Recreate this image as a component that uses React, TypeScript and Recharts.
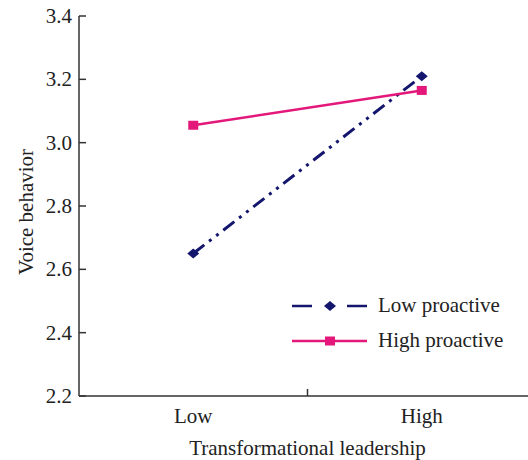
import React from "react";
import { LineChart, Line, XAxis, YAxis, Label } from "recharts";

const categories = ["Low", "High"];
const lowProactive = [2.65, 3.21];
const highProactive = [3.055, 3.165];
const yTicks = [2.2, 2.4, 2.6, 2.8, 3.0, 3.2, 3.4];

const NAVY = "#14166e";
const PINK = "#e3187a";
const FONT = "'Liberation Serif', 'Times New Roman', serif";
const AXIS = "#333";

const data = categories.map((name, i) => ({
  pos: i + 0.5,
  name,
  low: lowProactive[i],
  high: highProactive[i],
}));

const Diamond = (props: any) => {
  const { cx, cy } = props;
  if (cx == null || cy == null) return null;
  return (
    <polygon
      points={`${cx},${cy - 5} ${cx + 6},${cy} ${cx},${cy + 5} ${cx - 6},${cy}`}
      fill={NAVY}
    />
  );
};

const Square = (props: any) => {
  const { cx, cy } = props;
  if (cx == null || cy == null) return null;
  return <rect x={cx - 5} y={cy - 4.5} width={10} height={9} fill={PINK} />;
};

const XTick = (props: any) => {
  const { x, y, payload } = props;
  if (payload.value === 1) {
    return <line x1={x} y1={y} x2={x} y2={y - 7} stroke={AXIS} strokeWidth={1.5} />;
  }
  const label = categories[Math.floor(payload.value)];
  return (
    <text x={x} y={y + 27} textAnchor="middle" fill="#222" fontSize={21} fontFamily={FONT}>
      {label}
    </text>
  );
};

const YTick = (props: any) => {
  const { x, y, payload } = props;
  return (
    <text x={x} y={y + 7} textAnchor="end" fill="#222" fontSize={21} fontFamily={FONT}>
      {Number(payload.value).toFixed(1)}
    </text>
  );
};

const legendRows = [
  { name: "Low proactive", color: NAVY, dash: "20 35 20", marker: "diamond" },
  { name: "High proactive", color: PINK, dash: undefined, marker: "square" },
];

const ChartLegend = () => (
  <div
    style={{
      position: "absolute",
      left: 292,
      top: 288,
      fontFamily: FONT,
      fontSize: 21,
      color: "#222",
    }}
  >
    {legendRows.map((r) => (
      <div key={r.name} style={{ display: "flex", alignItems: "center", height: 35 }}>
        <svg width={86} height={20} style={{ display: "block" }}>
          <line x1={0} y1={10} x2={75} y2={10} stroke={r.color} strokeWidth={2.5} strokeDasharray={r.dash} />
          {r.marker === "diamond" ? (
            <polygon points="38,5 44,10 38,15 32,10" fill={r.color} />
          ) : (
            <rect x={33} y={5.5} width={10} height={9} fill={r.color} />
          )}
        </svg>
        <span style={{ whiteSpace: "nowrap" }}>{r.name}</span>
      </div>
    ))}
  </div>
);

export default function App() {
  return (
    <div
      style={{
        position: "absolute",
        left: 0,
        top: 0,
        width: 528,
        height: 460,
        overflow: "hidden",
        background: "#fff",
        fontFamily: FONT,
      }}
    >
      <LineChart
        width={536}
        height={460}
        data={data}
        margin={{ top: 16, right: 0, left: 0, bottom: 0 }}
        style={{ fontFamily: FONT }}
      >
        <XAxis
          dataKey="pos"
          type="number"
          domain={[0, 2]}
          ticks={[0.5, 1, 1.5]}
          tick={<XTick />}
          tickLine={false}
          tickSize={0}
          tickMargin={0}
          height={64}
          axisLine={{ stroke: AXIS, strokeWidth: 1.5 }}
          interval={0}
        >
          <Label
            content={(p: any) => {
              const vb = p.viewBox;
              return (
                <text
                  x={vb.x + vb.width / 2}
                  y={vb.y + 59}
                  textAnchor="middle"
                  fill="#222"
                  fontSize={21}
                  fontFamily={FONT}
                >
                  Transformational leadership
                </text>
              );
            }}
          />
        </XAxis>
        <YAxis
          type="number"
          domain={[2.2, 3.4]}
          ticks={yTicks}
          width={79}
          tick={<YTick />}
          tickSize={-7}
          tickMargin={14}
          tickLine={{ stroke: AXIS, strokeWidth: 1.5 }}
          axisLine={{ stroke: AXIS, strokeWidth: 1.5 }}
          interval={0}
        >
          <Label
            content={() => (
              <text
                x={33}
                y={212}
                transform="rotate(-90, 33, 212)"
                textAnchor="middle"
                fill="#222"
                fontSize={21}
                fontFamily={FONT}
              >
                Voice behavior
              </text>
            )}
          />
        </YAxis>
        <Line
          type="linear"
          dataKey="low"
          name="Low proactive"
          stroke={NAVY}
          strokeWidth={3}
          strokeDasharray="14 6 3 6 3 6"
          dot={<Diamond />}
          activeDot={false}
          isAnimationActive={false}
        />
        <Line
          type="linear"
          dataKey="high"
          name="High proactive"
          stroke={PINK}
          strokeWidth={2.5}
          dot={<Square />}
          activeDot={false}
          isAnimationActive={false}
        />
      </LineChart>
      <ChartLegend />
    </div>
  );
}
